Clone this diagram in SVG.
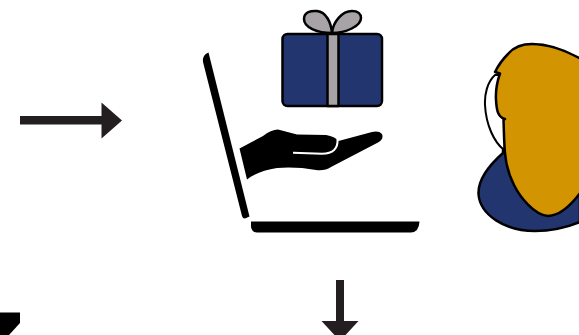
<svg xmlns="http://www.w3.org/2000/svg" width="579" height="335" viewBox="0 0 579 335">
<style>
.line{stroke:#000;stroke-width:2.5;stroke-linejoin:round}
.grey{fill:#a7a3a7}
.navy{fill:#22356f}
.arrow{fill:#231f20}
.black{fill:#000}
</style>
<rect width="579" height="335" fill="#fff"/>
<g id="connectors">
<path class="arrow" d="M20 116H101.500V102.500L122 120.500 101.500 138.500V124.500H20Z"/>
<path class="arrow" d="M336 280H344V321H358.500L340 341 321.500 321H336Z"/>
<path class="black" d="M0 312.500H20V323L9 335H0Z"/>
</g>
<g id="laptop">
<path class="black" d="M203 62Q202 55 208.500 52.500L249.500 216.500 245 218.500Q242.500 218.500 242 216Z"/>
<path class="black" d="M251 221.500H419.500Q419 232 411 232.500H257Q250.500 232 251 225Z"/>
</g>
<g id="hand">
<path class="black" d="M239.500 148.500 263 136Q271 129.500 278 129.500L297 134.500 326 135Q335 136.500 338.500 141L372 132Q379 130.500 382 134 384 139 378 142.500L331 167Q325 171 316 170 296 166.500 277 168 258 171 247 179.500Z"/>
<path d="M293 152.700 322 153.800Q338.500 153.500 337.500 139" fill="none" stroke="#fff" stroke-width="2"/>
</g>
<g id="gift">
<path class="grey line" d="M332 33C318 33 304 28 304 19 304 12 311 10.500 317 11 326 12 331 22 332 33 333 22 342 11 352 11 358 11 361 14 361 18 361 26 346 33 332 33Z"/>
<rect class="navy line" x="282.500" y="34" width="99.500" height="72" rx="5"/>
<rect class="grey line" x="327.500" y="34" width="11" height="72"/>
</g>
<g id="person">
<path class="navy line" d="M503 153C486 168 478 182 478.500 194 480 215 505 231 535 231 552 231 568 227 580 222V150H503Z"/>
<path d="M495 75C487 82 484.500 95 485 105 486 125 494 142 504 150L510 120V75Z" fill="#fff" stroke="#000" stroke-width="2"/>
<path d="M581 59C565 50 548 44 532 44 520 44 513 48 508 54 502 60 498 66 495 72L500 73.500C497 82 495.500 92 496 100 496.500 108 497 117 505 119L503.500 120C504 132 504 143 505 153 506 165 509 175 514 185 520 197 534 215 548 216 560 216 572 204 581 192Z" fill="#d29400" stroke="#000" stroke-width="2.500" stroke-linejoin="round"/>
</g>
</svg>
